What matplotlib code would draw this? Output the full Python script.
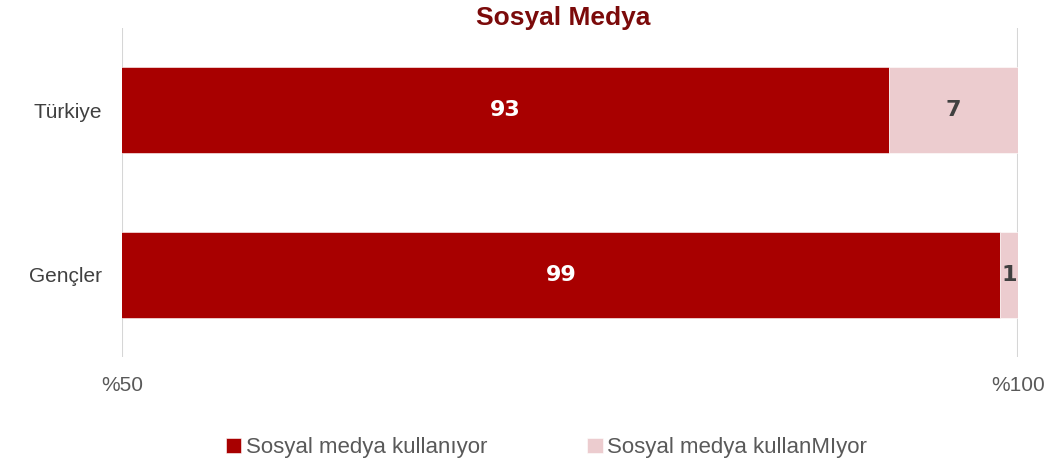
import matplotlib.pyplot as plt
import numpy as np

plt.rcParams['font.family'] = ['Liberation Sans Narrow', 'Liberation Sans', 'DejaVu Sans']

# data
groups = ['Türkiye', 'Gençler']
kullaniyor = [92.8, 99.0]
kullanmiyor = [7.2, 1.0]
series_names = ['Sosyal medya kullanıyor', 'Sosyal medya kullanMIyor']
ticks = [50, 100]
tick_labels = ['%50', '%100']

dark_red = '#a80000'
light_red = '#eccccf'

fig = plt.figure(figsize=(10.51, 4.69), dpi=100)
ax = fig.add_axes([0.116, 0.239, 0.8526, 0.701])

y = np.arange(len(groups))
h = 0.524
b1 = ax.barh(y, kullaniyor, height=h, color=dark_red, label=series_names[0],
             edgecolor='white', linewidth=0.4)
b2 = ax.barh(y, kullanmiyor, left=kullaniyor, height=h, color=light_red,
             label=series_names[1], edgecolor='white', linewidth=0.4)

xmin, xmax = 50, 100
ax.set_xlim(xmin, xmax)
ax.set_ylim(1.5, -0.5)

for i in range(len(groups)):
    c1 = (xmin + kullaniyor[i]) / 2
    ax.text(c1, y[i], f'{kullaniyor[i]:.0f}', ha='center', va='center',
            color='white', fontsize=16, fontweight='heavy', family='DejaVu Sans')
    c2 = kullaniyor[i] + kullanmiyor[i] / 2
    ax.text(c2, y[i], f'{kullanmiyor[i]:.0f}', ha='center', va='center',
            color='#404040', fontsize=16, fontweight='heavy', family='DejaVu Sans')

ax.set_xticks(ticks)
ax.set_xticklabels(tick_labels, fontsize=15, color='#595959')
ax.set_yticks(y)
ax.set_yticklabels(groups, fontsize=15, color='#404040')
ax.tick_params(axis='x', length=0, pad=14)
ax.tick_params(axis='y', length=0, pad=14)
ax.grid(axis='x', color='#d6d6d6', linewidth=1.5)
ax.set_axisbelow(True)
for s in ax.spines.values():
    s.set_visible(False)

fig.text(0.536, 0.962, 'Sosyal Medya', ha='center', va='center', fontsize=19,
         fontweight='bold', color='#7b0a0a')

fig.legend(handles=[b1, b2], loc='center', bbox_to_anchor=(0.52, 0.045), ncol=2,
           frameon=False, fontsize=16, handlelength=0.7, handleheight=0.7,
           handletextpad=0.2, columnspacing=4.5, labelcolor='#595959')

fig.savefig('out.png', dpi=100)
